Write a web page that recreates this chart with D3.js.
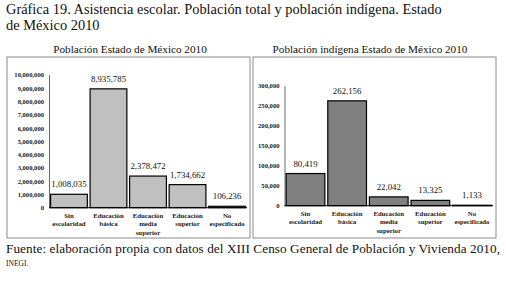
<!DOCTYPE html>
<html>
<head>
<meta charset="utf-8">
<script src="https://cdn.jsdelivr.net/npm/d3@7"></script>
<style>
  body { margin: 0; background: #fff; }
</style>
</head>
<body>
<div class="chart-container"></div>
<script>
// data
const categories = [["Sin", "escolaridad"], ["Educación", "básica"], ["Educación", "media", "superior"], ["Educación", "superior"], ["No", "especificado"]];
const totalValues = [1008035, 8935785, 2378472, 1734662, 106236];
const indigenaValues = [80419, 262156, 22042, 13325, 1133];
const totalTicks = d3.range(0, 10000001, 1000000);
const indigenaTicks = d3.range(0, 300001, 50000);

const width = 506, height = 281;
const serif = "Liberation Serif";
const fmt = d3.format(",");

const svg = d3.select(".chart-container").append("svg")
    .attr("width", width)
    .attr("height", height)
    .attr("font-family", serif);

// main title
svg.append("text").attr("x", 6).attr("y", 14).attr("font-size", 14.4).attr("fill", "#111")
    .attr("font-family", serif)
    .text("Gráfica 19. Asistencia escolar. Población total y población indígena. Estado");
svg.append("text").attr("x", 6).attr("y", 30).attr("font-size", 14.4).attr("fill", "#111")
    .attr("font-family", serif)
    .text("de México 2010");

function panel(opts) {
    const g = svg.append("g");

    // frame
    g.append("rect")
        .attr("x", opts.box[0]).attr("y", 57)
        .attr("width", opts.box[1] - opts.box[0]).attr("height", 181)
        .attr("fill", "none").attr("stroke", "#8a8a8a").attr("stroke-width", 1);

    g.append("text")
        .attr("x", opts.titleX).attr("y", 53)
        .attr("font-family", serif)
        .attr("text-anchor", "middle").attr("font-size", 11.2).attr("fill", "#111")
        .text(opts.title);

    const x = d3.scaleBand()
        .domain(d3.range(opts.values.length))
        .range(opts.xRange)
        .paddingInner(0.07).paddingOuter(0.04);

    const y = d3.scaleLinear()
        .domain([0, opts.ticks[opts.ticks.length - 1]])
        .range(opts.yRange);

    // y axis
    const yAxis = g.append("g")
        .attr("transform", `translate(${opts.xRange[0]},0)`)
        .call(d3.axisLeft(y).tickValues(opts.ticks).tickSize(0).tickPadding(5).tickFormat(fmt));
    yAxis.attr("font-family", serif);
    yAxis.select(".domain").attr("stroke", "#444").attr("stroke-width", 0.8);
    yAxis.selectAll("text")
        .attr("font-family", serif)
        .attr("font-weight", "bold").attr("font-size", 6.6).attr("fill", "#222");

    // bars
    g.selectAll("rect.bar")
        .data(opts.values)
        .join("rect")
        .attr("class", "bar")
        .attr("x", (d, i) => x(i))
        .attr("y", d => y(d))
        .attr("width", x.bandwidth())
        .attr("height", d => y(0) - y(d))
        .attr("fill", opts.fill)
        .attr("stroke", "#000").attr("stroke-width", 1.2);

    // x baseline
    g.append("line")
        .attr("x1", opts.xRange[0]).attr("x2", opts.xRange[1])
        .attr("y1", y(0)).attr("y2", y(0))
        .attr("stroke", "#000").attr("stroke-width", 1);

    // value labels
    g.selectAll("text.val")
        .data(opts.values)
        .join("text")
        .attr("class", "val")
        .attr("font-family", serif)
        .attr("x", (d, i) => x(i) + x.bandwidth() / 2)
        .attr("y", d => y(d) - 7)
        .attr("text-anchor", "middle").attr("font-size", 8.8).attr("fill", "#111")
        .text(d => fmt(d));

    // category labels
    const cat = g.selectAll("text.cat")
        .data(categories)
        .join("text")
        .attr("class", "cat")
        .attr("font-family", serif)
        .attr("text-anchor", "middle").attr("font-size", 6.8).attr("font-weight", "bold").attr("fill", "#222");
    cat.selectAll("tspan")
        .data((d, i) => d.map(s => ({ s, i })))
        .join("tspan")
        .attr("x", d => x(d.i) + x.bandwidth() / 2)
        .attr("y", (d, j) => y(0) + 10 + j * 8.5)
        .text(d => d.s);
}

panel({
    box: [7, 250], title: "Población Estado de México 2010", titleX: 130,
    values: totalValues, ticks: totalTicks, fill: "#c0c0c0",
    xRange: [49, 247], yRange: [207.7, 74.7]
});

panel({
    box: [253, 496], title: "Población indígena Estado de México 2010", titleX: 370,
    values: indigenaValues, ticks: indigenaTicks, fill: "#808080",
    xRange: [284.5, 493], yRange: [205.7, 85.7]
});

// footer
svg.append("text").attr("x", 6).attr("y", 253).attr("font-size", 13.2).attr("fill", "#111")
    .attr("font-family", serif)
    .attr("textLength", 494).attr("lengthAdjust", "spacing")
    .text("Fuente: elaboración propia con datos del XIII Censo General de Población y Vivienda 2010,");
svg.append("text").attr("x", 6).attr("y", 266).attr("font-size", 7.5).attr("fill", "#111")
    .attr("font-family", serif)
    .text("INEGI.");
</script>
</body>
</html>
